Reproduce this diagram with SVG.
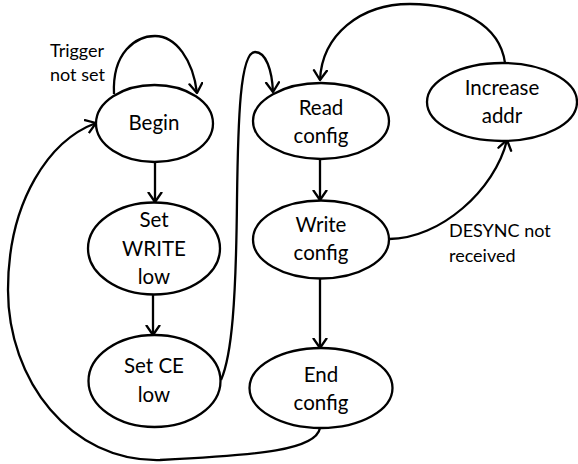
<svg xmlns="http://www.w3.org/2000/svg" width="578" height="464" viewBox="0 0 578 464">
<style>
.n{fill:#fff;stroke:#000;stroke-width:2.3}
.t{font-family:Lato,"Open Sans",sans-serif;font-size:20.5px;text-anchor:middle;fill:#000}
.l{font-family:Lato,"Open Sans",sans-serif;font-size:18px;fill:#000}
.c{fill:none;stroke:#000;stroke-width:2.3;marker-end:url(#a)}
</style>
<defs>
<marker id="a" markerUnits="userSpaceOnUse" viewBox="-1 -1 12 16" markerWidth="12" markerHeight="16" refX="9.5" refY="6.5" orient="auto">
<path d="M0,0 L9.5,6.5 L0,13" fill="none" stroke="#000" stroke-width="2.3" stroke-linejoin="round" stroke-linecap="round"/>
</marker>
</defs>
<rect width="578" height="464" fill="#fff"/>
<g id="connectors">
<path class="c" d="M114,94 C112,52 136,36 155,36 C176,36 193,60 197,93"/>
<path class="c" d="M155,162 L155,202"/>
<path class="c" d="M153,294 L153,335"/>
<path class="c" d="M320,159 L320,200"/>
<path class="c" d="M320,278 L320,348"/>
<path class="c" d="M505,63 C500,25 460,4 410,4 C360,4 322,35 320,80"/>
<path class="c" d="M389,239 C440,239 495,190 507,140"/>
<path class="c" d="M221,380 C232,355 236,300 237,200 C238,120 240,52 255,52 C266,52 272,70 273,92"/>
<path class="c" d="M320,428 C316,450 260,455 160,460 C70,462 8,380 8,290 C8,200 50,140 96,123"/>
</g>
<g id="begin"><ellipse class="n" cx="154.5" cy="123.5" rx="58.5" ry="38.5"/><text class="t" x="154" y="130">Begin</text></g>
<g id="setwrite"><ellipse class="n" cx="154" cy="248.5" rx="66" ry="46"/><text class="t" x="154" y="227">Set</text><text class="t" x="154" y="255.5">WRITE</text><text class="t" x="154" y="284">low</text></g>
<g id="setce"><ellipse class="n" cx="154.5" cy="381" rx="66" ry="46"/><text class="t" x="154" y="373">Set CE</text><text class="t" x="154" y="402">low</text></g>
<g id="readconfig"><ellipse class="n" cx="321" cy="121" rx="68" ry="38"/><text class="t" x="321" y="115">Read</text><text class="t" x="321" y="143">config</text></g>
<g id="writeconfig"><ellipse class="n" cx="321" cy="239.5" rx="68" ry="39"/><text class="t" x="321" y="232">Write</text><text class="t" x="321" y="260">config</text></g>
<g id="endconfig"><ellipse class="n" cx="321" cy="388" rx="71.5" ry="40"/><text class="t" x="321" y="382">End</text><text class="t" x="321" y="410">config</text></g>
<g id="increaseaddr"><ellipse class="n" cx="502" cy="102" rx="75" ry="39"/><text class="t" x="502" y="95">Increase</text><text class="t" x="502" y="123">addr</text></g>
<g id="labels">
<text class="l" x="50" y="57">Trigger</text><text class="l" x="50" y="81">not set</text>
<text class="l" x="449" y="237">DESYNC not</text><text class="l" x="449" y="262">received</text>
</g>
</svg>
